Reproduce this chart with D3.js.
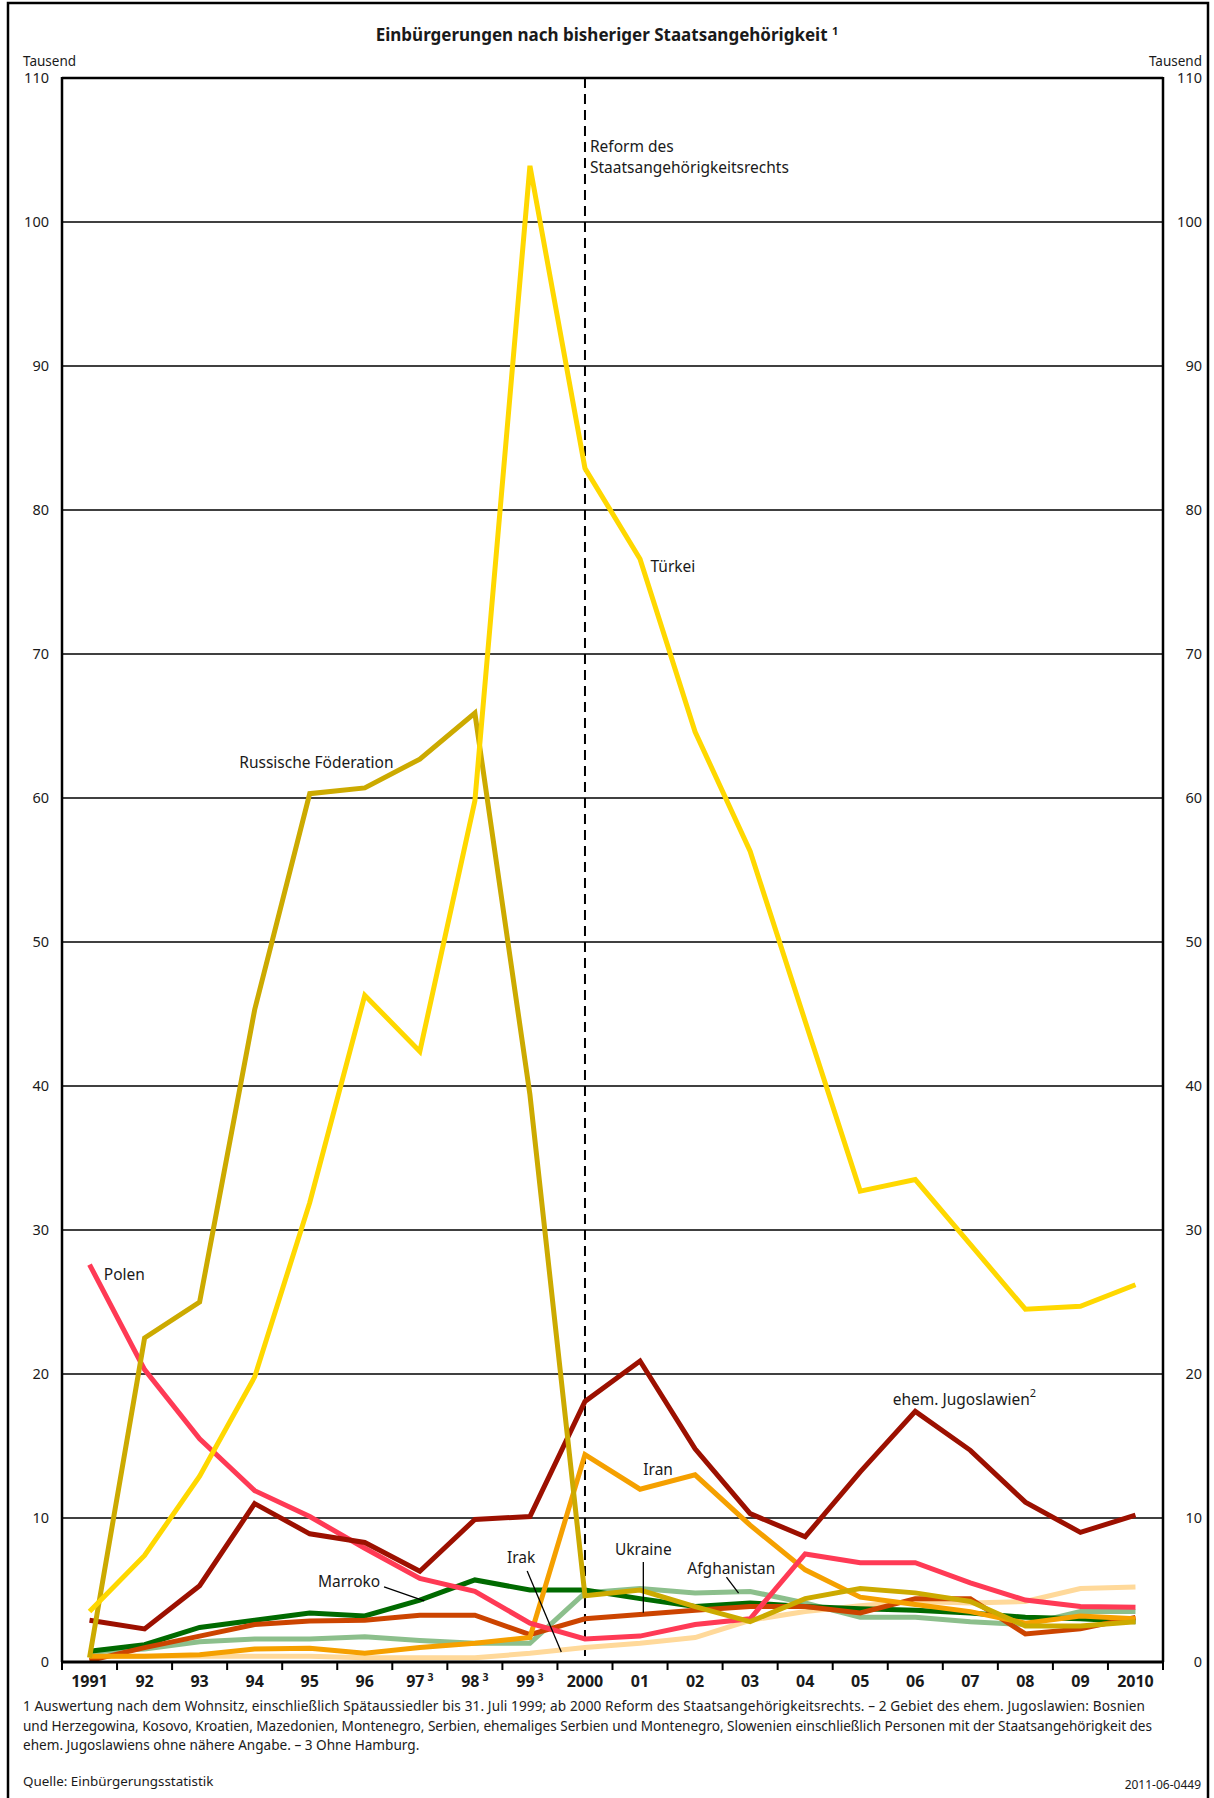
<!DOCTYPE html>
<html>
<head>
<meta charset="utf-8">
<script src="https://cdn.jsdelivr.net/npm/d3@7"></script>
<style>
  body { margin: 0; background: #fff; }
  text { font-family: "Noto Sans", "DejaVu Sans", sans-serif; fill: #1a1a1a; }
</style>
</head>
<body>
<div id="chart"></div>
<script>
// years on the x axis, sup = footnote marker
var years = ["1991", "92", "93", "94", "95", "96", "97", "98", "99", "2000",
             "01", "02", "03", "04", "05", "06", "07", "08", "09", "2010"];
var yearSup = {"97": "3", "98": "3", "99": "3"};
var yTicks = [0, 10, 20, 30, 40, 50, 60, 70, 80, 90, 100, 110];

// Einbuergerungen in Tausend
var irak        = [0.4, 0.4, 0.4, 0.4, 0.4, 0.3, 0.3, 0.3, 0.6, 1.0, 1.3, 1.7, 2.9, 3.5, 3.9, 4.2, 4.1, 4.2, 5.1, 5.2];
var afghanistan = [0.7, 0.9, 1.4, 1.6, 1.6, 1.75, 1.5, 1.3, 1.3, 4.8, 5.1, 4.8, 4.9, 4.1, 3.1, 3.1, 2.8, 2.6, 3.5, 3.5];
var marroko     = [0.75, 1.2, 2.4, 2.9, 3.4, 3.2, 4.3, 5.7, 5.0, 5.0, 4.4, 3.85, 4.1, 3.85, 3.7, 3.6, 3.4, 3.1, 3.0, 2.8];
var ukraine     = [0.1, 1.0, 1.8, 2.6, 2.85, 2.9, 3.25, 3.25, 1.9, 3.0, 3.3, 3.6, 3.85, 3.85, 3.4, 4.4, 4.4, 1.95, 2.3, 3.1];
var iran        = [0.4, 0.4, 0.5, 0.9, 0.95, 0.6, 1.0, 1.3, 1.7, 14.4, 12.0, 13.0, 9.5, 6.4, 4.5, 4.0, 3.5, 2.7, 3.2, 3.0];
var polen       = [27.6, 20.3, 15.5, 11.9, 10.1, 7.9, 5.8, 4.9, 2.7, 1.6, 1.8, 2.6, 3.0, 7.5, 6.9, 6.9, 5.5, 4.3, 3.85, 3.8];
var jugoslawien = [2.9, 2.3, 5.3, 11.0, 8.9, 8.3, 6.3, 9.9, 10.1, 18.1, 20.9, 14.8, 10.3, 8.7, 13.2, 17.4, 14.7, 11.1, 9.0, 10.2];
var russland    = [0.3, 22.5, 25.0, 45.3, 60.3, 60.7, 62.7, 65.9, 39.4, 4.6, 5.0, 3.85, 2.8, 4.4, 5.1, 4.8, 4.2, 2.5, 2.5, 2.8];
var tuerkei     = [3.5, 7.4, 12.9, 19.8, 31.9, 46.3, 42.4, 59.8, 103.9, 82.9, 76.6, 64.6, 56.3, 44.5, 32.7, 33.5, 29.0, 24.5, 24.7, 26.2];

var seriesNames  = ["Irak", "Afghanistan", "Marroko", "Ukraine", "Iran", "Polen", "ehem. Jugoslawien", "Russische Föderation", "Türkei"];
var seriesValues = [irak, afghanistan, marroko, ukraine, iran, polen, jugoslawien, russland, tuerkei];
var seriesColors = ["#ffd99a", "#8cbf8c", "#006a00", "#cc4400", "#f5a000", "#ff3a55", "#9c1000", "#ccaa00", "#ffd800"];

// labels in data units: i = year index, v = value
var labels = [
  {t: "Türkei", i: 10.19, v: 75.7, a: "start"},
  {t: "Russische Föderation", i: 2.72, v: 62.1, a: "start"},
  {t: "Polen", i: 0.26, v: 26.5, a: "start"},
  {t: "ehem. Jugoslawien", sup: "2", i: 14.59, v: 17.85, a: "start"},
  {t: "Iran", i: 10.06, v: 13.0, a: "start"},
  {t: "Ukraine", i: 10.06, v: 7.43, a: "middle"},
  {t: "Afghanistan", i: 10.86, v: 6.11, a: "start"},
  {t: "Irak", i: 7.84, v: 6.88, a: "middle"},
  {t: "Marroko", i: 4.15, v: 5.21, a: "start"}
];
var leaders = [
  [10.06, 6.94, 10.06, 3.42],
  [11.57, 5.9, 11.79, 4.79],
  [7.95, 6.32, 8.57, 0.7],
  [5.35, 5.21, 6.08, 4.24]
];

var footnotes = [
  "1 Auswertung nach dem Wohnsitz, einschließlich Spätaussiedler bis 31. Juli 1999; ab 2000 Reform des Staatsangehörigkeitsrechts. – 2 Gebiet des ehem. Jugoslawien: Bosnien",
  "und Herzegowina, Kosovo, Kroatien, Mazedonien, Montenegro, Serbien, ehemaliges Serbien und Montenegro, Slowenien einschließlich Personen mit der Staatsangehörigkeit des",
  "ehem. Jugoslawiens ohne nähere Angabe. – 3 Ohne Hamburg."
];
var footnoteWidths = [1122, 1129, null];

var width = 1214;
var height = 1798;
var plotLeft = 62, plotRight = 1163, plotTop = 78, plotBottom = 1662;

var svg = d3.select("#chart").append("svg")
  .attr("width", width)
  .attr("height", height);

// frame
svg.append("rect")
  .attr("x", 8).attr("y", 3)
  .attr("width", 1200).attr("height", 1800)
  .attr("fill", "none").attr("stroke", "#000").attr("stroke-width", 2.5);

var x = d3.scaleBand().domain(years).range([plotLeft, plotRight]).padding(0);
var xi = d3.scaleLinear().domain([0, years.length - 1])
  .range([x(years[0]) + x.bandwidth() / 2, x(years[years.length - 1]) + x.bandwidth() / 2]);
var y = d3.scaleLinear().domain([0, 110]).range([plotBottom, plotTop]);

// title
var title = svg.append("text")
  .attr("x", 607).attr("y", 41)
  .attr("text-anchor", "middle")
  .style("font-size", "17px").style("font-weight", "bold");
title.append("tspan").text("Einbürgerungen nach bisheriger Staatsangehörigkeit ");
title.append("tspan").attr("dy", -6).style("font-size", "11px").text("1");

svg.append("text").attr("x", 23).attr("y", 66).style("font-size", "13.5px").text("Tausend");
svg.append("text").attr("x", 1202).attr("y", 66).attr("text-anchor", "end").style("font-size", "13.5px").text("Tausend");

// gridlines
svg.append("g").selectAll("line")
  .data(yTicks.filter(function(d) { return d > 0 && d < 110; }))
  .enter().append("line")
  .attr("x1", plotLeft).attr("x2", plotRight)
  .attr("y1", function(d) { return y(d); })
  .attr("y2", function(d) { return y(d); })
  .attr("stroke", "#000").attr("stroke-width", 1.6);

// y labels both sides
svg.append("g").selectAll("text")
  .data(yTicks).enter().append("text")
  .attr("x", 49).attr("y", function(d) { return y(d) + 5; })
  .attr("text-anchor", "end").style("font-size", "14.5px")
  .text(function(d) { return d; });
svg.append("g").selectAll("text")
  .data(yTicks).enter().append("text")
  .attr("x", 1202).attr("y", function(d) { return y(d) + 5; })
  .attr("text-anchor", "end").style("font-size", "14.5px")
  .text(function(d) { return d; });

// reform line at 2000
svg.append("line")
  .attr("x1", xi(9)).attr("x2", xi(9))
  .attr("y1", y(110)).attr("y2", y(0))
  .attr("stroke", "#000").attr("stroke-width", 2)
  .attr("stroke-dasharray", "10,6");
svg.append("text").attr("x", xi(9) + 5).attr("y", 152).style("font-size", "15.5px").text("Reform des");
svg.append("text").attr("x", xi(9) + 5).attr("y", 173).style("font-size", "15.5px").text("Staatsangehörigkeitsrechts");

// series
var line = d3.line()
  .x(function(d, i) { return x(years[i]) + x.bandwidth() / 2; })
  .y(function(d) { return y(d); });

svg.append("g").selectAll("path")
  .data(seriesValues).enter().append("path")
  .attr("d", line)
  .attr("fill", "none")
  .attr("stroke", function(d, i) { return seriesColors[i]; })
  .attr("stroke-width", 5)
  .attr("stroke-linejoin", "miter");

// plot frame
svg.append("line").attr("x1", plotLeft).attr("x2", plotRight).attr("y1", y(110)).attr("y2", y(110))
  .attr("stroke", "#000").attr("stroke-width", 2.5);
svg.append("line").attr("x1", plotLeft).attr("x2", plotLeft).attr("y1", y(110) - 1).attr("y2", y(0))
  .attr("stroke", "#000").attr("stroke-width", 2.5);
svg.append("line").attr("x1", plotRight).attr("x2", plotRight).attr("y1", y(110) - 1).attr("y2", y(0))
  .attr("stroke", "#000").attr("stroke-width", 2.5);
svg.append("line").attr("x1", plotLeft - 1).attr("x2", plotRight + 1).attr("y1", y(0)).attr("y2", y(0))
  .attr("stroke", "#000").attr("stroke-width", 3);

// x ticks at band edges
var edges = years.map(function(d) { return x(d); }).concat([plotRight]);
svg.append("g").selectAll("line")
  .data(edges).enter().append("line")
  .attr("x1", function(d) { return d; }).attr("x2", function(d) { return d; })
  .attr("y1", plotBottom).attr("y2", plotBottom + 8)
  .attr("stroke", "#000").attr("stroke-width", 2);

var xl = svg.append("g").selectAll("text")
  .data(years).enter().append("text")
  .attr("x", function(d) { return x(d) + x.bandwidth() / 2; })
  .attr("y", 1687)
  .attr("text-anchor", "middle")
  .style("font-size", "16px").style("font-weight", "bold");
xl.append("tspan").text(function(d) { return d; });
xl.append("tspan").attr("dy", -6).attr("dx", 3).style("font-size", "10.5px")
  .text(function(d) { return yearSup[d] || ""; });

// labels
var lab = svg.append("g").selectAll("text")
  .data(labels).enter().append("text")
  .attr("x", function(d) { return xi(d.i); })
  .attr("y", function(d) { return y(d.v); })
  .attr("text-anchor", function(d) { return d.a; })
  .style("font-size", "15.5px");
lab.append("tspan").text(function(d) { return d.t; });
lab.append("tspan").attr("dy", -8).style("font-size", "11px").text(function(d) { return d.sup || ""; });

svg.append("g").selectAll("line")
  .data(leaders).enter().append("line")
  .attr("x1", function(d) { return xi(d[0]); })
  .attr("y1", function(d) { return y(d[1]); })
  .attr("x2", function(d) { return xi(d[2]); })
  .attr("y2", function(d) { return y(d[3]); })
  .attr("stroke", "#000").attr("stroke-width", 1.3);

// footnotes
svg.append("g").selectAll("text")
  .data(footnotes).enter().append("text")
  .attr("x", 23)
  .attr("y", function(d, i) { return 1711 + i * 19.5; })
  .attr("textLength", function(d, i) { return footnoteWidths[i]; })
  .attr("lengthAdjust", "spacing")
  .style("font-size", "13.6px")
  .text(function(d) { return d; });
svg.append("text").attr("x", 23).attr("y", 1786).style("font-size", "13.4px").text("Quelle: Einbürgerungsstatistik");
svg.append("text").attr("x", 1201).attr("y", 1789).attr("text-anchor", "end").style("font-size", "12px").text("2011-06-0449");
</script>
</body>
</html>
